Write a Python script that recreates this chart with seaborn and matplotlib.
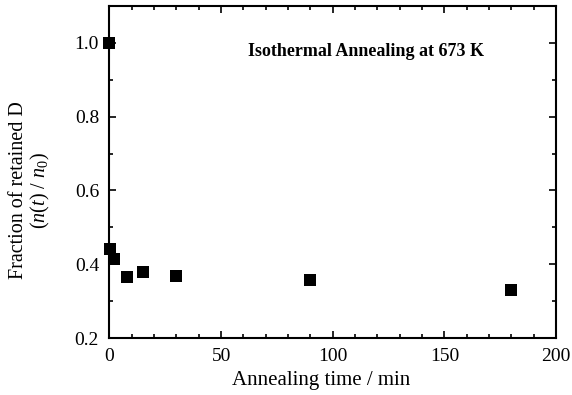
import matplotlib
matplotlib.use("Agg")
import matplotlib.pyplot as plt
import seaborn as sns
import pandas as pd
from matplotlib.ticker import MultipleLocator

time_min = [0, 0.3, 2, 8, 15, 30, 90, 180]
fraction = [1.0, 0.44, 0.415, 0.365, 0.378, 0.368, 0.358, 0.33]
y_ticks = [0.2, 0.4, 0.6, 0.8, 1.0]
y_tick_labels = ["0.2", "0.4", "0.6", "0.8", "1.0"]

sns.set_style("ticks")
plt.rcParams['font.family'] = ['Liberation Serif', 'DejaVu Serif']
plt.rcParams['mathtext.fontset'] = 'custom'
plt.rcParams['mathtext.rm'] = 'Liberation Serif'
plt.rcParams['mathtext.it'] = 'Liberation Serif:italic'
plt.rcParams['text.color'] = 'black'
plt.rcParams['axes.labelcolor'] = 'black'
plt.rcParams['xtick.color'] = 'black'
plt.rcParams['ytick.color'] = 'black'

df = pd.DataFrame({"t": time_min, "f": fraction})
fig = plt.figure(figsize=(5.72, 3.95), dpi=100)
ax = fig.add_axes([0.1914, 0.1443, 0.7806, 0.8407])
sns.scatterplot(data=df, x="t", y="f", marker="s", s=85, color="black",
                edgecolor="black", linewidth=0, ax=ax, legend=False, zorder=3, clip_on=False)
ax.set_xlim(0, 200)
ax.set_ylim(0.2, 1.1)
ax.xaxis.set_major_locator(MultipleLocator(50))
ax.xaxis.set_minor_locator(MultipleLocator(10))
ax.yaxis.set_major_locator(MultipleLocator(0.2))
ax.yaxis.set_minor_locator(MultipleLocator(0.1))
ax.tick_params(which="both", direction="in", top=True, right=True, width=1.2,
               color="black", labelcolor="black")
ax.tick_params(which="major", length=5, labelsize=14, pad=7.5)
ax.tick_params(which="minor", length=3)
ax.set_yticks(y_ticks)
ax.set_yticklabels(y_tick_labels)
for sp in ax.spines.values():
    sp.set_linewidth(1.5)
    sp.set_color("black")
ax.set_xlabel("Annealing time / min", fontsize=15, color="black")
ax.xaxis.set_label_coords(0.474, -0.098)
ax.set_ylabel("Fraction of retained D\n($n(t)$ / $n_0$)", fontsize=14.5, linespacing=1.05, color="black")
ax.yaxis.set_label_coords(-0.128, 0.445)
ax.text(0.574, 0.864, "Isothermal Annealing at 673 K", transform=ax.transAxes,
        fontsize=13, fontweight="bold", ha="center", va="center", color="black")
fig.savefig("out.png", dpi=100)
